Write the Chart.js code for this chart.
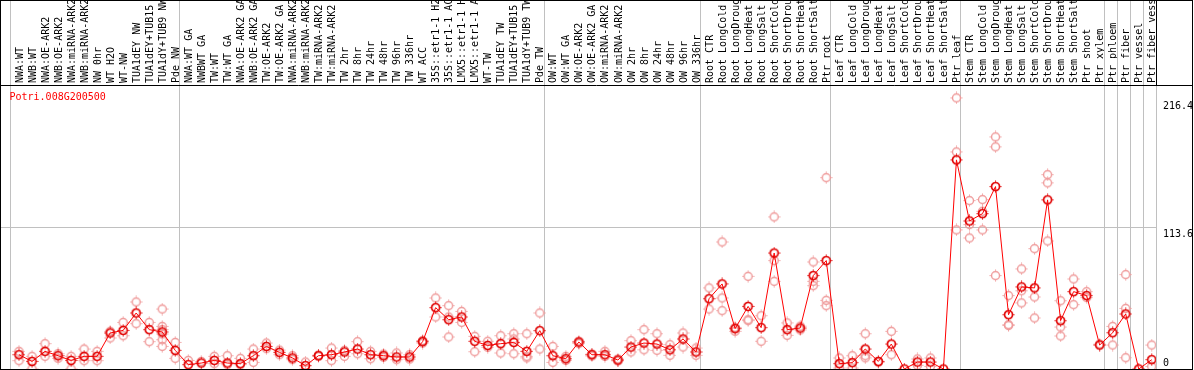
<!DOCTYPE html>
<html>
<head>
<meta charset="utf-8">
<script src="https://cdn.jsdelivr.net/npm/chart.js@4/dist/chart.umd.min.js"></script>
<style>
  html, body { margin: 0; padding: 0; background: #fff; }
  canvas { display: block; }
</style>
</head>
<body>
<canvas id="chart" width="1194" height="370"></canvas>
<script>
const geneName = 'Potri.008G200500';

const sampleLabels = [
  'NWA:WT', 'NWB:WT', 'NWA:OE-ARK2', 'NWB:OE-ARK2', 'NWA:miRNA-ARK2', 'NWB:miRNA-ARK2', 'NW 0hr', 'WT H2O', 'WT-NW',
  'TUA1dEY NW', 'TUA1dEY+TUB15', 'TUA1dY+TUB9 NW', 'Pde NW',
  'NWA:WT GA', 'NWBWT GA', 'TW:WT', 'TW:WT GA', 'NWA:OE-ARK2 GA', 'NWB:OE-ARK2 GA', 'TW:OE-ARK2', 'TW:OE-ARK2 GA',
  'NWA:miRNA-ARK2', 'NWB:miRNA-ARK2', 'TW:miRNA-ARK2', 'TW:miRNA-ARK2', 'TW 2hr', 'TW 8hr', 'TW 24hr', 'TW 48hr',
  'TW 96hr', 'TW 336hr', 'WT ACC', '35S::etr1-1 H2O', '35S::etr1-1 ACC', 'LMX5::etr1-1 H2O', 'LMX5::etr1-1 ACC',
  'WT-TW', 'TUA1dEY TW', 'TUA1dEY+TUB15', 'TUA1dY+TUB9 TW', 'Pde TW',
  'OW:WT', 'OW:WT GA', 'OW:OE-ARK2', 'OW:OE-ARK2 GA', 'OW:miRNA-ARK2', 'OW:miRNA-ARK2', 'OW 2hr', 'OW 8hr',
  'OW 24hr', 'OW 48hr', 'OW 96hr', 'OW 336hr',
  'Root CTR', 'Root LongCold', 'Root LongDrought', 'Root LongHeat', 'Root LongSalt', 'Root ShortCold',
  'Root ShortDrought', 'Root ShortHeat', 'Root ShortSalt', 'Ptr root',
  'Leaf CTR', 'Leaf LongCold', 'Leaf LongDrought', 'Leaf LongHeat', 'Leaf LongSalt', 'Leaf ShortCold',
  'Leaf ShortDrought', 'Leaf ShortHeat', 'Leaf ShortSalt', 'Ptr leaf',
  'Stem CTR', 'Stem LongCold', 'Stem LongDrought', 'Stem LongHeat', 'Stem LongSalt', 'Stem ShortCold',
  'Stem ShortDrought', 'Stem ShortHeat', 'Stem ShortSalt', 'Ptr shoot', 'Ptr xylem',
  'Ptr phloem', 'Ptr fiber', 'Ptr vessel', 'Ptr fiber vessel'
];

// samples per experiment block, separated by grey lines
const groupSizes = [13, 28, 12, 10, 10, 11, 1, 1, 1, 1];

const meanValues = [
  11.5, 6.1, 14.2, 10.7, 6.9, 10.2, 10.2, 29.0, 31.1, 45.1, 31.7, 29.8, 15.0,
  3.5, 4.8, 6.9, 4.8, 4.3, 10.7, 18.2, 13.4, 8.9, 2.7, 10.7, 11.5, 13.7, 16.1, 11.5, 10.7,
  9.7, 9.7, 22.0, 49.4, 39.7, 41.9, 22.3, 19.0, 20.4, 21.4, 14.2, 30.9,
  10.7, 8.3, 21.7, 11.5, 11.5, 7.2, 17.7, 20.9, 20.1, 15.5, 24.2, 13.7,
  56.6, 68.5, 32.5, 50.4, 33.3, 93.4, 31.7, 33.0, 75.2, 87.3,
  4.3, 5.1, 16.1, 6.1, 20.1, 0, 5.6, 5.6, 0, 168.4,
  119.2, 125.1, 146.9, 43.7, 66.1, 65.3, 136.2, 38.9, 62.3, 59.1, 19.3,
  29.2, 44.3, 0, 7.5
];

const replicateValues = [
  [14.2, 6.7], [10.2, 0], [20.4, 10.2], [12.3, 8.6], [10.2, 0], [16.1, 6.7], [14.2, 6.7], [30.3, 25.0],
  [37.5, 26.8], [54.0, 36.5], [37.5, 22.0], [48.3, 34.3, 31.7, 28.2, 23.6, 18.2], [21.4, 8.6],
  [6.9], [6.1], [10.2, 4.3], [10.7, 3.5], [8.6, 3.5], [16.1, 5.3], [20.9, 16.4], [11.5, 15.2], [10.7, 7.5],
  [5.6, 0], [10.2, 11.2], [16.9, 6.7], [15.0, 10.2], [22.0, 12.3], [14.2, 8.3], [12.0, 9.5], [12.9, 7.5],
  [11.5, 8.0], [20.9, 23.0], [57.2, 41.9], [51.0, 41.9, 25.8], [46.4, 37.5], [26.3, 13.9], [22.3, 17.5],
  [26.8, 12.9], [28.4, 24.2, 12.3], [28.4, 10.2, 9.0], [45.1, 16.1],
  [18.2, 5.3], [10.2, 6.9], [22.3, 20.5], [12.0, 10.5], [14.2, 10.2], [8.0, 6.5], [22.8, 13.7],
  [31.7, 15.5], [28.4, 15.0], [19.6, 11.0], [29.0, 17.7], [16.9, 11.0],
  [65.3, 48.3], [102.3, 57.2, 47.0], [30.3, 33.5], [74.6, 39.7, 39.0], [42.9, 22.3], [122.5, 87.3, 70.6],
  [37.1, 27.1], [34.5, 31.5], [86.2, 70.6, 67.1], [154.1, 55.3, 51.0],
  [8.9, 0.8], [10.7, 0.8], [28.4, 10.7, 9.0], [5.2], [30.3, 11.5], [], [8.1, 3.0], [8.9, 2.1], [],
  [218.3, 174.8, 112.0],
  [135.6, 116.3, 105.5], [136.4, 127.0, 112.0], [186.9, 178.9, 75.2], [59.1, 35.7, 35.0], [80.6, 63.0, 53.2],
  [96.9, 58.0, 41.1], [156.5, 149.9, 103.1], [55.0, 33.8, 26.6], [72.5, 51.8], [62.3, 57.5], [20.0],
  [34.3, 19.3], [76.0, 48.8, 9.1], [], [19.3, 2.1]
];

const yTickValues = [0, 113.6, 216.4];

const FONT = { family: 'DejaVu Sans Mono', size: 10 };

function marker(color, width) {
  const c = document.createElement('canvas');
  c.width = c.height = 13;
  const g = c.getContext('2d');
  g.strokeStyle = color;
  g.lineWidth = width;
  g.beginPath();
  g.arc(6.5, 6.5, 4, 0, Math.PI * 2);
  g.stroke();
  g.lineWidth = 1;
  g.beginPath();
  g.moveTo(6.5, 0.5); g.lineTo(6.5, 1.8);
  g.moveTo(6.5, 11.2); g.lineTo(6.5, 12.5);
  g.moveTo(0.5, 6.5); g.lineTo(1.8, 6.5);
  g.moveTo(11.2, 6.5); g.lineTo(12.5, 6.5);
  g.stroke();
  return c;
}

const meanPoints = meanValues.map((v, i) => ({ x: i, y: v }));
const repPoints = [];
replicateValues.forEach((reps, i) => reps.forEach(v => repPoints.push({ x: i, y: v })));

// grey separators sit a bit left of each block's first sample
const boundaries = [];
let start = 0;
boundaries.push(start - 0.69);
groupSizes.forEach(n => { start += n; boundaries.push(start - 0.69); });

const frame = {
  id: 'frame',
  beforeDatasetsDraw(chart) {
    const { ctx, chartArea: a, scales: { x } } = chart;
    ctx.save();
    ctx.strokeStyle = '#c0c0c0';
    ctx.lineWidth = 1;
    boundaries.forEach(b => {
      const px = Math.round(x.getPixelForValue(b)) + 0.5;
      ctx.beginPath();
      ctx.moveTo(px, 0);
      ctx.lineTo(px, a.bottom);
      ctx.stroke();
    });
    ctx.restore();
  },
  afterDraw(chart) {
    const { ctx, chartArea: a } = chart;
    ctx.save();
    ctx.strokeStyle = '#000';
    ctx.lineWidth = 1;
    ctx.strokeRect(0.5, 0.5, 1192, a.bottom);
    ctx.beginPath();
    ctx.moveTo(0, a.top + 0.5); ctx.lineTo(1193, a.top + 0.5);
    ctx.moveTo(a.right + 0.5, 0); ctx.lineTo(a.right + 0.5, a.top);
    ctx.stroke();
    ctx.fillStyle = '#ff0000';
    ctx.font = '10px "DejaVu Sans Mono"';
    ctx.textBaseline = 'middle';
    ctx.fillText(geneName, 9.5, a.top + 12);
    ctx.restore();
  }
};

new Chart(document.getElementById('chart'), {
  data: {
    datasets: [
      {
        type: 'line', data: meanPoints, order: 0,
        borderColor: '#ff0000', borderWidth: 1, tension: 0,
        pointStyle: marker('#e00000', 1.7), pointRadius: 5, clip: 0
      },
      {
        type: 'scatter', data: repPoints, order: 1,
        pointStyle: marker('#ef9a9a', 1.4), pointRadius: 5, clip: 0
      }
    ]
  },
  options: {
    responsive: false,
    animation: false,
    devicePixelRatio: 1,
    layout: { autoPadding: false, padding: { left: 0, right: 0, top: 0, bottom: 1 } },
    plugins: { legend: { display: false }, tooltip: { enabled: false } },
    scales: {
      x: {
        type: 'linear', position: 'top', min: -1.459, max: 87.327,
        afterBuildTicks: s => { s.ticks = sampleLabels.map((_, i) => ({ value: i })); },
        afterFit: s => { s.height = 85; s.paddingLeft = 0; s.paddingRight = 0; },
        grid: { display: false, drawTicks: false },
        border: { display: false },
        ticks: {
          autoSkip: false, minRotation: 90, maxRotation: 90, padding: 2, labelOffset: 13,
          font: FONT, color: '#000',
          callback: (v, i) => sampleLabels[i]
        }
      },
      y: {
        position: 'right', min: 0, max: 228.7,
        afterBuildTicks: s => { s.ticks = yTickValues.map(v => ({ value: v })); },
        afterFit: s => { s.width = 38; s.paddingTop = 0; s.paddingBottom = 0; },
        grid: {
          drawTicks: false,
          color: ctx => (ctx.tick && ctx.tick.value === 113.6) ? '#c0c0c0' : 'rgba(0,0,0,0)'
        },
        border: { display: false },
        ticks: {
          padding: 7, font: FONT, color: '#000',
          callback: v => v === 0 ? ['0', ''] : ['', String(v)]
        }
      }
    }
  },
  plugins: [frame]
});
</script>
</body>
</html>
